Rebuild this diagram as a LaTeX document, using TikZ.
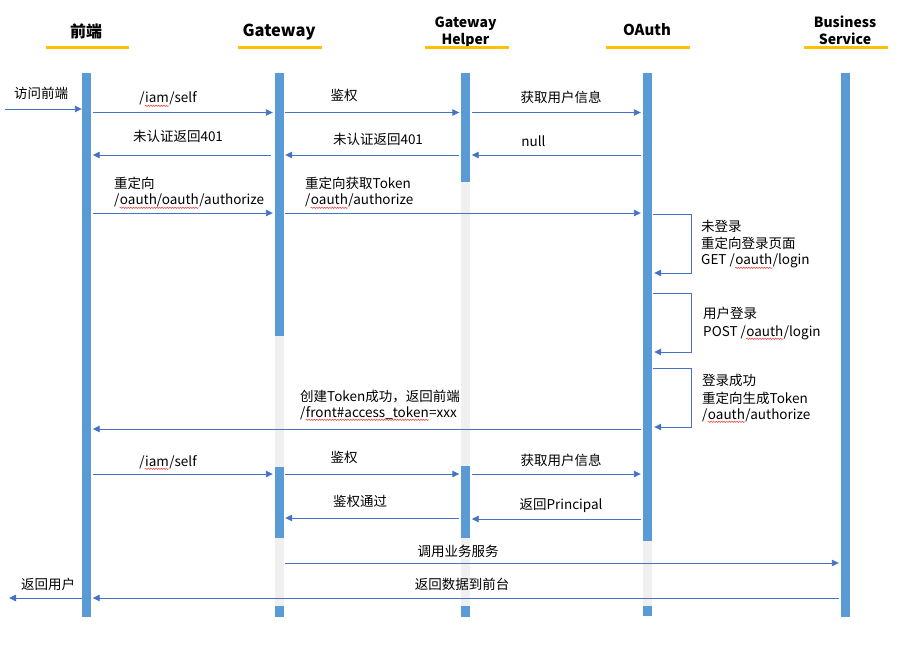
\documentclass[tikz,border=0pt]{standalone}
\usepackage{fontspec}
\setmainfont{Noto Sans CJK SC}
\usetikzlibrary{arrows.meta,decorations.pathmorphing}

\definecolor{lifeblue}{HTML}{5B9BD5}
\definecolor{idlegray}{HTML}{F0F0F0}
\definecolor{msgblue}{HTML}{4472C4}
\definecolor{headgold}{HTML}{FFC000}
\definecolor{spellred}{HTML}{F03C3C}

% red wavy underline (spell-check style)
\newcommand\spellwave[1]{\tikz[baseline=(sw.base)]{%
  \node[inner sep=0, anchor=base] (sw) {#1};%
  \draw[spellred, line width=0.5pt, decorate,
        decoration={snake, amplitude=0.7pt, segment length=2.6pt}]
    ([yshift=-2.8pt]sw.base west) -- ([yshift=-2.8pt]sw.base east);}}

\tikzset{
  header/.style={font=\fontsize{16}{17}\selectfont\bfseries, inner sep=0, anchor=base},
  headrule/.style={draw=headgold, line width=3.5pt},
  lifeline/.style={fill=idlegray, draw=none, minimum width=9pt, inner sep=0, anchor=north},
  active/.style={fill=lifeblue, draw=none, minimum width=9pt, inner sep=0, anchor=north},
  msg/.style={draw=msgblue, line width=0.9pt, shorten <=1.5pt, shorten >=1.5pt,
              -{Triangle[length=7pt,width=6.5pt]}},
  selfmsg/.style={draw=msgblue, line width=0.9pt, -{Triangle[length=7pt,width=6.5pt]}},
  lbl/.style={inner sep=0, anchor=base},
  note/.style={inner sep=0, anchor=base west},
}

\begin{document}
\begin{tikzpicture}[x=1pt, y=-1pt, font=\fontsize{13.5}{17}\selectfont]
\useasboundingbox (0,0) rectangle (914,650);

% ---- participants ----
\node[header] (hFE) at (86,37.5) {前端};
\node[header, font=\fontsize{16.5}{17}\selectfont\bfseries] (hGW) at (279,37) {Gateway};
\node[header, font=\fontsize{14}{17}\selectfont\bfseries] (hGH1) at (465.5,28) {Gateway};
\node[header, font=\fontsize{14}{17}\selectfont\bfseries] (hGH2) at (465.5,45) {Helper};
\node[header, font=\fontsize{15}{17}\selectfont\bfseries] (hOA) at (647,36) {OAuth};
\node[header, font=\fontsize{14}{17}\selectfont\bfseries] (hBS1) at (845,28) {Business};
\node[header, font=\fontsize{14}{17}\selectfont\bfseries] (hBS2) at (845,45) {Service};

\draw[headrule] (46,47.5) -- (129,47.5);
\draw[headrule] (238,47.5) -- (322,47.5);
\draw[headrule] (425,47.5) -- (509,47.5);
\draw[headrule] (606,47.5) -- (690,47.5);
\draw[headrule] (804,47.5) -- (888,47.5);

% ---- lifelines (idle) ----
\node[lifeline, minimum height=544pt] (fe) at (86.5,73) {};
\node[lifeline, minimum height=544pt] (gw) at (279,73) {};
\node[lifeline, minimum height=544pt] (gh) at (465.5,73) {};
\node[lifeline, minimum height=543pt] (oa) at (647,73) {};
\node[lifeline, minimum height=544pt] (bs) at (845,73) {};

% ---- activations ----
\node[active, minimum height=544pt] (feA) at (86.5,73) {};
\node[active, minimum height=263pt] (gwA1) at (279,73) {};
\node[active, minimum height=71pt]  (gwA2) at (279,467) {};
\node[active, minimum height=11pt]  (gwA3) at (279,606) {};
\node[active, minimum height=109pt] (ghA1) at (465.5,73) {};
\node[active, minimum height=72pt]  (ghA2) at (465.5,466) {};
\node[active, minimum height=11pt]  (ghA3) at (465.5,606) {};
\node[active, minimum height=468pt] (oaA1) at (647,73) {};
\node[active, minimum height=10pt]  (oaA2) at (647,606) {};
\node[active, minimum height=544pt] (bsA) at (845,73) {};

% ---- free ends ----
\coordinate (client) at (5,109);
\coordinate (user) at (9,598);

% ---- first request ----
\draw[msg, shorten <=0pt, shorten >=0pt] (client) -- (fe.west |- client);
\node[lbl] (t1) at (41,98.5) {访问前端};

\draw[msg] (fe.east |- 0,112.5) -- (gw.west |- 0,112.5);
\node[lbl] (t2) at (168,103) {/\spellwave{iam}/self};
\draw[msg] (gw.east |- 0,112.5) -- (gh.west |- 0,112.5);
\node[lbl] (t3) at (344,100.5) {鉴权};
\draw[msg] (gh.east |- 0,112.5) -- (oa.west |- 0,112.5);
\node[lbl] (t4) at (561,102.5) {获取用户信息};

\draw[msg] (oa.west |- 0,155) -- (gh.east |- 0,155);
\node[lbl] (t5) at (533.5,147) {null};
\draw[msg] (gh.west |- 0,155) -- (gw.east |- 0,155);
\node[lbl] (t6) at (378,144.5) {未认证返回401};
\draw[msg, shorten <=3.5pt] (gw.west |- 0,155) -- (fe.east |- 0,155);
\node[lbl] (t7) at (178,142) {未认证返回401};

% ---- redirect to OAuth ----
\draw[msg] (fe.east |- 0,213) -- (gw.west |- 0,213);
\node[note] (t8a) at (114,188.5) {重定向};
\node[note] (t8b) at (114,205) {/\spellwave{oauth/oauth}/authorize};
\draw[msg] (gw.east |- 0,213) -- (oa.west |- 0,213);
\node[note] (t9a) at (305,188.5) {重定向获取Token};
\node[note] (t9b) at (305,205) {/\spellwave{oauth}/authorize};

% ---- OAuth self messages ----
\coordinate (l1t) at (691,214);
\coordinate (l1b) at (691,273);
\draw[selfmsg] ([xshift=1.5pt]oa.east |- l1t) -- (l1t) -- (l1b) -- ([xshift=2.5pt]oa.east |- l1b);
\node[note] (t10a) at (701,231.5) {未登录};
\node[note] (t10b) at (701,248) {重定向登录页面};
\node[note] (t10c) at (701,265) {GET /\spellwave{oauth}/login};

\coordinate (l2t) at (691,293);
\coordinate (l2b) at (691,352);
\draw[selfmsg] ([xshift=1.5pt]oa.east |- l2t) -- (l2t) -- (l2b) -- ([xshift=2.5pt]oa.east |- l2b);
\node[note] (t11a) at (703,318.5) {用户登录};
\node[note] (t11b) at (703,336) {POST /\spellwave{oauth}/login};

\coordinate (l3t) at (691,368);
\coordinate (l3b) at (691,427);
\draw[selfmsg] ([xshift=1.5pt]oa.east |- l3t) -- (l3t) -- (l3b) -- ([xshift=2.5pt]oa.east |- l3b);
\node[note] (t12a) at (702,385.5) {登录成功};
\node[note] (t12b) at (702,403) {重定向生成Token};
\node[note] (t12c) at (702,419) {/\spellwave{oauth}/authorize};

% ---- token back to front end ----
\draw[msg] (oa.west |- 0,429) -- (fe.east |- 0,429);
\node[note] (t13a) at (300,401) {创建Token成功，返回前端};
\node[note] (t13b) at (300,417) {/\spellwave{front\#access\_token}=xxx};

% ---- second request ----
\draw[msg] (fe.east |- 0,474) -- (gw.west |- 0,474);
\node[lbl] (t14) at (168,466) {/\spellwave{iam}/self};
\draw[msg] (gw.east |- 0,474) -- (gh.west |- 0,474);
\node[lbl] (t15) at (344,462.5) {鉴权};
\draw[msg] (gh.east |- 0,474) -- (oa.west |- 0,474);
\node[lbl] (t16) at (561,465.5) {获取用户信息};

\draw[msg] (oa.west |- 0,519) -- (gh.east |- 0,519);
\node[lbl] (t17) at (561,509) {返回Principal};
\draw[msg] (gh.west |- 0,518) -- (gw.east |- 0,518);
\node[lbl] (t18) at (360,506.5) {鉴权通过};

% ---- business call ----
\draw[msg] (gw.east |- 0,563) -- (bs.west |- 0,563);
\node[lbl] (t19) at (458,556.5) {调用业务服务};
\draw[msg] (bs.west |- 0,598) -- (fe.east |- 0,598);
\node[lbl] (t20) at (462,589.5) {返回数据到前台};
\draw[msg, shorten <=0pt, shorten >=0pt] (fe.west |- user) -- (user);
\node[lbl] (t21) at (48,589.5) {返回用户};

\end{tikzpicture}
\end{document}
